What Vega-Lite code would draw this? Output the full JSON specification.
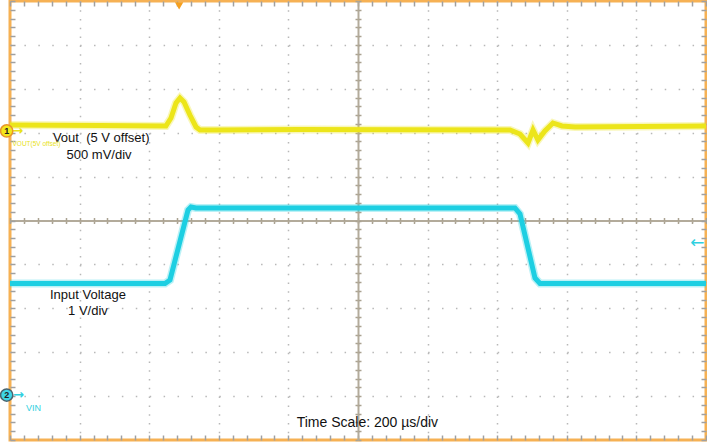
{
  "$schema": "https://vega.github.io/schema/vega-lite/v6.json",
  "width": 696,
  "height": 439,
  "autosize": {"type": "none"},
  "padding": {"left": 10, "top": 1, "right": 1, "bottom": 2},
  "background": "white",
  "config": {
    "view": {"stroke": "#f6b154", "strokeWidth": 3},
    "text": {"font": "Liberation Sans"}
  },
  "datasets": {
    "traces": [
      {"s": "Vout", "t": 0, "v": 7.175},
      {"s": "Vout", "t": 258, "v": 7.164},
      {"s": "Vout", "t": 448, "v": 7.153},
      {"s": "Vout", "t": 462.6, "v": 7.335},
      {"s": "Vout", "t": 477, "v": 7.677},
      {"s": "Vout", "t": 488.5, "v": 7.79},
      {"s": "Vout", "t": 500, "v": 7.7},
      {"s": "Vout", "t": 517, "v": 7.403},
      {"s": "Vout", "t": 534.5, "v": 7.13},
      {"s": "Vout", "t": 546, "v": 7.062},
      {"s": "Vout", "t": 589, "v": 7.062},
      {"s": "Vout", "t": 833, "v": 7.073},
      {"s": "Vout", "t": 1437, "v": 7.062},
      {"s": "Vout", "t": 1465.5, "v": 6.97},
      {"s": "Vout", "t": 1488.5, "v": 6.765},
      {"s": "Vout", "t": 1503, "v": 7.062},
      {"s": "Vout", "t": 1517, "v": 6.834},
      {"s": "Vout", "t": 1537, "v": 7.039},
      {"s": "Vout", "t": 1560, "v": 7.221},
      {"s": "Vout", "t": 1586, "v": 7.153},
      {"s": "Vout", "t": 1623.6, "v": 7.13},
      {"s": "Vout", "t": 2000, "v": 7.153},
      {"s": "Vin", "t": 0, "v": 3.565},
      {"s": "Vin", "t": 445.4, "v": 3.565},
      {"s": "Vin", "t": 459.8, "v": 3.645},
      {"s": "Vin", "t": 511.5, "v": 5.239},
      {"s": "Vin", "t": 520, "v": 5.308},
      {"s": "Vin", "t": 534.5, "v": 5.285},
      {"s": "Vin", "t": 1451, "v": 5.285},
      {"s": "Vin", "t": 1465.5, "v": 5.148},
      {"s": "Vin", "t": 1508.6, "v": 3.69},
      {"s": "Vin", "t": 1523, "v": 3.565},
      {"s": "Vin", "t": 2000, "v": 3.565}
    ],
    "labels": [
      {"t": 262, "v": 6.879, "text": "Vout \u00a0(5 V offset)"},
      {"t": 256, "v": 6.492, "text": "500 mV/div"},
      {"t": 224, "v": 3.303, "text": "Input Voltage"},
      {"t": 224, "v": 2.938, "text": "1 V/div"}
    ]
  },
  "resolve": {"axis": {"x": "independent", "y": "independent"}},
  "layer": [
    {
      "data": {"name": "traces"},
      "transform": [{"filter": "datum.s === 'Vout'"}],
      "mark": {"type": "line", "color": "#ece51a", "strokeWidth": 8, "opacity": 0.3},
      "encoding": {
        "x": {"field": "t", "type": "quantitative", "scale": {"domain": [0, 2000], "nice": false, "zero": false},
          "axis": {"orient": "bottom", "values": [200, 400, 600, 800, 1000, 1200, 1400, 1600, 1800], "grid": true, "gridDash": [1.5, 7.28], "gridColor": "#b8b8b8", "gridWidth": 1.5, "ticks": false, "labels": false, "domain": false, "title": null, "zindex": 0}},
        "y": {"field": "v", "type": "quantitative", "scale": {"domain": [0, 10], "nice": false, "zero": false},
          "axis": {"orient": "left", "values": [1, 2, 3, 4, 5, 6, 7, 8, 9], "grid": true, "gridDash": [1.5, 12.42], "gridColor": "#b8b8b8", "gridWidth": 1.5, "ticks": false, "labels": false, "domain": false, "title": null, "zindex": 0}}
      }
    },
    {
      "data": {"name": "traces"},
      "transform": [{"filter": "datum.s === 'Vout'"}],
      "mark": {"type": "line", "color": "#ece51a", "strokeWidth": 5},
      "encoding": {
        "x": {"field": "t", "type": "quantitative", "scale": {"domain": [0, 2000], "nice": false, "zero": false},
          "axis": {"orient": "bottom", "values": [0, 40, 80, 120, 160, 200, 240, 280, 320, 360, 400, 440, 480, 520, 560, 600, 640, 680, 720, 760, 800, 840, 880, 920, 960, 1000, 1040, 1080, 1120, 1160, 1200, 1240, 1280, 1320, 1360, 1400, 1440, 1480, 1520, 1560, 1600, 1640, 1680, 1720, 1760, 1800, 1840, 1880, 1920, 1960, 2000], "tickSize": -5, "tickColor": "#a0a0a0", "tickWidth": 1.5, "grid": false, "labels": false, "domain": false, "title": null, "zindex": 0}},
        "y": {"field": "v", "type": "quantitative", "scale": {"domain": [0, 10], "nice": false, "zero": false},
          "axis": {"orient": "left", "values": [0, 0.2, 0.4, 0.6, 0.8, 1, 1.2, 1.4, 1.6, 1.8, 2, 2.2, 2.4, 2.6, 2.8, 3, 3.2, 3.4, 3.6, 3.8, 4, 4.2, 4.4, 4.6, 4.8, 5, 5.2, 5.4, 5.6, 5.8, 6, 6.2, 6.4, 6.6, 6.8, 7, 7.2, 7.4, 7.6, 7.8, 8, 8.2, 8.4, 8.6, 8.8, 9, 9.2, 9.4, 9.6, 9.8, 10], "tickSize": -5, "tickColor": "#a0a0a0", "tickWidth": 1.5, "grid": false, "labels": false, "domain": false, "title": null, "zindex": 0}}
      }
    },
    {
      "data": {"name": "traces"},
      "transform": [{"filter": "datum.s === 'Vin'"}],
      "mark": {"type": "line", "color": "#1dcfe2", "strokeWidth": 8, "opacity": 0.3},
      "encoding": {
        "x": {"field": "t", "type": "quantitative", "scale": {"domain": [0, 2000], "nice": false, "zero": false},
          "axis": {"orient": "top", "values": [0, 40, 80, 120, 160, 200, 240, 280, 320, 360, 400, 440, 480, 520, 560, 600, 640, 680, 720, 760, 800, 840, 880, 920, 960, 1000, 1040, 1080, 1120, 1160, 1200, 1240, 1280, 1320, 1360, 1400, 1440, 1480, 1520, 1560, 1600, 1640, 1680, 1720, 1760, 1800, 1840, 1880, 1920, 1960, 2000], "tickSize": -5, "tickColor": "#a0a0a0", "tickWidth": 1.5, "grid": false, "labels": false, "domain": false, "title": null, "zindex": 0}},
        "y": {"field": "v", "type": "quantitative", "scale": {"domain": [0, 10], "nice": false, "zero": false},
          "axis": {"orient": "right", "values": [0, 0.2, 0.4, 0.6, 0.8, 1, 1.2, 1.4, 1.6, 1.8, 2, 2.2, 2.4, 2.6, 2.8, 3, 3.2, 3.4, 3.6, 3.8, 4, 4.2, 4.4, 4.6, 4.8, 5, 5.2, 5.4, 5.6, 5.8, 6, 6.2, 6.4, 6.6, 6.8, 7, 7.2, 7.4, 7.6, 7.8, 8, 8.2, 8.4, 8.6, 8.8, 9, 9.2, 9.4, 9.6, 9.8, 10], "tickSize": -5, "tickColor": "#a0a0a0", "tickWidth": 1.5, "grid": false, "labels": false, "domain": false, "title": null, "zindex": 0}}
      }
    },
    {
      "data": {"name": "traces"},
      "transform": [{"filter": "datum.s === 'Vin'"}],
      "mark": {"type": "line", "color": "#1dcfe2", "strokeWidth": 5},
      "encoding": {
        "x": {"field": "t", "type": "quantitative", "scale": {"domain": [0, 2000], "nice": false, "zero": false},
          "axis": {"orient": "bottom", "offset": -219.5, "values": [0, 40, 80, 120, 160, 200, 240, 280, 320, 360, 400, 440, 480, 520, 560, 600, 640, 680, 720, 760, 800, 840, 880, 920, 960, 1000, 1040, 1080, 1120, 1160, 1200, 1240, 1280, 1320, 1360, 1400, 1440, 1480, 1520, 1560, 1600, 1640, 1680, 1720, 1760, 1800, 1840, 1880, 1920, 1960, 2000], "tickSize": 3, "tickColor": "#aaa291", "tickWidth": 1.5, "domain": true, "domainColor": "#b3ab9b", "domainWidth": 2, "grid": false, "labels": false, "title": null, "zindex": 0}},
        "y": {"field": "v", "type": "quantitative", "scale": {"domain": [0, 10], "nice": false, "zero": false},
          "axis": {"orient": "left", "offset": -348, "values": [0, 0.2, 0.4, 0.6, 0.8, 1, 1.2, 1.4, 1.6, 1.8, 2, 2.2, 2.4, 2.6, 2.8, 3, 3.2, 3.4, 3.6, 3.8, 4, 4.2, 4.4, 4.6, 4.8, 5, 5.2, 5.4, 5.6, 5.8, 6, 6.2, 6.4, 6.6, 6.8, 7, 7.2, 7.4, 7.6, 7.8, 8, 8.2, 8.4, 8.6, 8.8, 9, 9.2, 9.4, 9.6, 9.8, 10], "tickSize": 3, "tickColor": "#aaa291", "tickWidth": 1.5, "domain": true, "domainColor": "#b3ab9b", "domainWidth": 2, "grid": false, "labels": false, "title": null, "zindex": 0}}
      }
    },
    {
      "data": {"name": "labels"},
      "mark": {"type": "text", "fontSize": 13, "color": "#111111", "align": "center", "baseline": "middle"},
      "encoding": {
        "x": {"field": "t", "type": "quantitative", "scale": {"domain": [0, 2000], "nice": false, "zero": false},
          "axis": {"orient": "top", "offset": -219.5, "values": [0, 40, 80, 120, 160, 200, 240, 280, 320, 360, 400, 440, 480, 520, 560, 600, 640, 680, 720, 760, 800, 840, 880, 920, 960, 1000, 1040, 1080, 1120, 1160, 1200, 1240, 1280, 1320, 1360, 1400, 1440, 1480, 1520, 1560, 1600, 1640, 1680, 1720, 1760, 1800, 1840, 1880, 1920, 1960, 2000], "tickSize": 3, "tickColor": "#aaa291", "tickWidth": 1.5, "domain": false, "grid": false, "labels": false, "title": null, "zindex": 0}},
        "y": {"field": "v", "type": "quantitative", "scale": {"domain": [0, 10], "nice": false, "zero": false},
          "axis": {"orient": "right", "offset": -348, "values": [0, 0.2, 0.4, 0.6, 0.8, 1, 1.2, 1.4, 1.6, 1.8, 2, 2.2, 2.4, 2.6, 2.8, 3, 3.2, 3.4, 3.6, 3.8, 4, 4.2, 4.4, 4.6, 4.8, 5, 5.2, 5.4, 5.6, 5.8, 6, 6.2, 6.4, 6.6, 6.8, 7, 7.2, 7.4, 7.6, 7.8, 8, 8.2, 8.4, 8.6, 8.8, 9, 9.2, 9.4, 9.6, 9.8, 10], "tickSize": 3, "tickColor": "#aaa291", "tickWidth": 1.5, "domain": false, "grid": false, "labels": false, "title": null, "zindex": 0}},
        "text": {"field": "text"}
      }
    },
    {
      "data": {"values": [{"t": 1027, "v": 0.387, "text": "Time Scale: 200 µs/div"}]},
      "mark": {"type": "text", "fontSize": 14, "color": "#111111", "align": "center", "baseline": "middle"},
      "encoding": {
        "x": {"field": "t", "type": "quantitative", "axis": null},
        "y": {"field": "v", "type": "quantitative", "axis": null},
        "text": {"field": "text"}
      }
    },
    {
      "data": {"values": [{"t": 7.2, "v": 6.743, "text": "VOUT(5V offset)"}]},
      "mark": {"type": "text", "fontSize": 6.5, "font": "Liberation Sans", "color": "#e8e21a", "align": "left", "baseline": "middle"},
      "encoding": {
        "x": {"field": "t", "type": "quantitative", "axis": null},
        "y": {"field": "v", "type": "quantitative", "axis": null},
        "text": {"field": "text"}
      }
    },
    {
      "data": {"values": [{"t": 46, "v": 0.718, "text": "VIN"}]},
      "mark": {"type": "text", "fontSize": 9, "color": "#2fd0e0", "align": "left", "baseline": "middle"},
      "encoding": {
        "x": {"field": "t", "type": "quantitative", "axis": null},
        "y": {"field": "v", "type": "quantitative", "axis": null},
        "text": {"field": "text"}
      }
    },
    {
      "data": {"values": [{"t": 1975, "v": 4.487, "text": "←"}]},
      "mark": {"type": "text", "fontSize": 17, "font": "DejaVu Sans", "color": "#2fd0e0", "align": "center", "baseline": "middle"},
      "encoding": {
        "x": {"field": "t", "type": "quantitative", "axis": null},
        "y": {"field": "v", "type": "quantitative", "axis": null},
        "text": {"field": "text"}
      }
    },
    {
      "data": {"values": [{"t": 486, "v": 9.89}]},
      "mark": {"type": "point", "shape": "triangle-down", "filled": true, "color": "#f5a020", "size": 70, "opacity": 1},
      "encoding": {
        "x": {"field": "t", "type": "quantitative", "axis": null},
        "y": {"field": "v", "type": "quantitative", "axis": null}
      }
    },
    {
      "data": {"values": [{"t": 22, "v": 7.04, "text": "→"}]},
      "mark": {"type": "text", "fontSize": 13, "font": "DejaVu Sans", "fontWeight": "bold", "color": "#e8e21a", "align": "center", "baseline": "middle"},
      "encoding": {
        "x": {"field": "t", "type": "quantitative", "axis": null},
        "y": {"field": "v", "type": "quantitative", "axis": null},
        "text": {"field": "text"}
      }
    },
    {
      "data": {"values": [{"t": 24, "v": 1.025, "text": "→"}]},
      "mark": {"type": "text", "fontSize": 13, "font": "DejaVu Sans", "fontWeight": "bold", "color": "#2fd0e0", "align": "center", "baseline": "middle"},
      "encoding": {
        "x": {"field": "t", "type": "quantitative", "axis": null},
        "y": {"field": "v", "type": "quantitative", "axis": null},
        "text": {"field": "text"}
      }
    },
    {
      "data": {"values": [{"t": -9.5, "v": 7.04}]},
      "mark": {"type": "point", "shape": "circle", "filled": true, "fill": "#f3e81c", "stroke": "#e8962a", "strokeWidth": 1.5, "size": 150, "opacity": 1},
      "encoding": {
        "x": {"field": "t", "type": "quantitative", "axis": null},
        "y": {"field": "v", "type": "quantitative", "axis": null}
      }
    },
    {
      "data": {"values": [{"t": -9.5, "v": 1.025}]},
      "mark": {"type": "point", "shape": "circle", "filled": true, "fill": "#3fd6e6", "stroke": "#4a6470", "strokeWidth": 1.5, "size": 150, "opacity": 1},
      "encoding": {
        "x": {"field": "t", "type": "quantitative", "axis": null},
        "y": {"field": "v", "type": "quantitative", "axis": null}
      }
    },
    {
      "data": {"values": [{"t": -9.5, "v": 7.04, "text": "1"}, {"t": -9.5, "v": 1.025, "text": "2"}]},
      "mark": {"type": "text", "fontSize": 9, "fontWeight": "bold", "color": "#222222", "align": "center", "baseline": "middle"},
      "encoding": {
        "x": {"field": "t", "type": "quantitative", "axis": null},
        "y": {"field": "v", "type": "quantitative", "axis": null},
        "text": {"field": "text"}
      }
    }
  ]
}
